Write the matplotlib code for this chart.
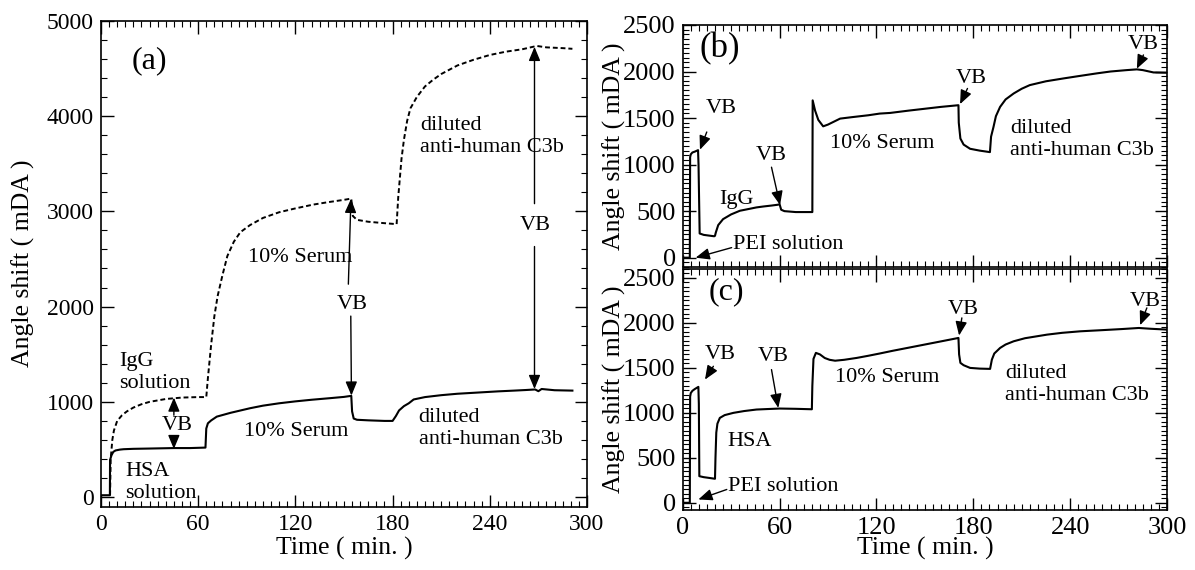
import matplotlib
matplotlib.use("Agg")
import matplotlib.pyplot as plt
from matplotlib.ticker import MultipleLocator

plt.rcParams["font.family"] = ["Liberation Serif", "DejaVu Serif"]
plt.rcParams["mathtext.fontset"] = "stix"

# (a) adsorption on bare sensor: IgG (dashed) and HSA (solid), time in min, shift in mDA
a_igg_t = [5.6, 6, 7, 8, 10, 13, 16, 20, 25, 30, 40, 50, 60, 65,
           66, 68, 70, 72, 75, 78, 82, 86, 92, 100, 110, 120, 131, 140, 150, 154.5,
           155.5, 158, 165, 175, 182.5,
           183.5, 184.5, 185.5, 187, 189, 191, 195, 200, 205, 210, 220, 230, 240,
           250, 260, 269, 275, 285, 291]
a_igg_v = [20, 400, 600, 700, 800, 860, 900, 940, 975, 1000, 1030, 1045, 1050, 1050,
           1250, 1600, 1900, 2110, 2330, 2530, 2680, 2780, 2855, 2930, 2990, 3030, 3070, 3095, 3120, 3133,
           2950, 2910, 2890, 2875, 2865,
           3150, 3350, 3550, 3750, 3950, 4080, 4200, 4310, 4380, 4440, 4530, 4590, 4640,
           4675, 4700, 4735, 4720, 4712, 4705]

a_hsa_t = [0.5, 5.5, 5.6, 6.5, 7.6, 9, 11.7, 14, 20, 30, 45, 55, 64.5,
           65, 66, 68, 71.5, 80, 92, 100, 110, 120, 130, 141.6, 150, 154.5,
           155, 156, 158, 165, 175, 180,
           182, 184, 187, 190, 193, 200, 210, 220, 230, 245, 255, 262, 268,
           270, 272, 280, 291]
a_hsa_v = [20, 20, 390, 440, 475, 490, 499, 503, 507, 510, 515, 515, 520,
           720, 775, 805, 845, 885, 933, 960, 985, 1005, 1022, 1039, 1052, 1063,
           900, 825, 812, 806, 800, 800,
           850, 910, 955, 985, 1025, 1050, 1070, 1085, 1095, 1110, 1118, 1124, 1130,
           1112, 1135, 1122, 1118]

# (b) PEI layer, IgG, serum, anti-C3b
b_t = [0.5, 4.4, 4.5, 4.6, 5, 6, 7.6, 9.5,
       9.8, 10.5, 13, 16, 19.5,
       20, 20.5, 22, 25, 30, 35.4, 40, 45.7, 50, 55, 59,
       60, 61, 63, 70, 80.3,
       80.5, 82, 84, 87, 90, 97.5, 105, 115, 122, 128.5, 140, 150, 160, 170.8,
       171, 172, 174, 178, 184, 190.3,
       191, 192.5, 194, 196.6, 200, 205, 210, 215, 225, 236, 245, 256.5, 265,
       275, 281.3, 285, 291.6, 300]
b_v = [0, 0, 600, 1080, 1110, 1130, 1140, 1155,
       1000, 260, 245, 238, 230,
       235, 270, 350, 414, 465, 504, 520, 540, 550, 560, 569,
       575, 515, 500, 490, 490,
       1690, 1580, 1480, 1411, 1430, 1494, 1510, 1530, 1548, 1555, 1580, 1600, 1620, 1638,
       1450, 1280, 1215, 1170, 1150, 1134,
       1300, 1404, 1520, 1620, 1700, 1764, 1815, 1854, 1895, 1926, 1950, 1980, 2000,
       2015, 2023, 2015, 1990, 1987]

# (c) PEI layer, HSA, serum, anti-C3b
c_t = [0.5, 4.4, 4.5, 4.6, 5, 6, 7.5, 9.7,
       10, 10.3, 13, 17, 20,
       20.3, 20.8, 21.5, 23, 26, 31.4, 38, 45.7, 52, 60, 70, 80,
       80.3, 81, 82.5, 85, 88, 91, 94.4, 100, 107.8, 115, 122, 130, 140, 150, 160, 170.8,
       171.2, 172, 174, 178, 184, 190.4,
       191.5, 193, 196.6, 200, 205, 212, 225.7, 235, 246.3, 260, 272, 282.5, 290, 300]
c_v = [0, 0, 600, 1180, 1220, 1245, 1265, 1289,
       1100, 296, 285, 275, 267,
       500, 780, 880, 944, 975, 1000, 1020, 1037, 1042, 1048, 1045, 1040,
       1300, 1600, 1667, 1650, 1610, 1590, 1580, 1590, 1611, 1635, 1660, 1690, 1725, 1760, 1795, 1833,
       1650, 1556, 1530, 1500, 1492, 1489,
       1592, 1660, 1722, 1760, 1796, 1830, 1870, 1890, 1907, 1920, 1932, 1944, 1935, 1926]

ANN = 16
TICK = 17
LABEL = 18.5
LW = 1.5


def style(ax, ymajor, yminor, labelsize):
    ax.set_xlim(0, 300)
    ax.xaxis.set_major_locator(MultipleLocator(60))
    ax.xaxis.set_minor_locator(MultipleLocator(5))
    ax.yaxis.set_major_locator(MultipleLocator(ymajor))
    ax.yaxis.set_minor_locator(MultipleLocator(yminor))
    ax.tick_params(which="both", direction="in", top=True, right=True,
                   labelsize=labelsize, pad=5)
    ax.tick_params(which="major", length=9, width=1.0)
    ax.tick_params(which="minor", length=4.5, width=0.8)
    for sp in ax.spines.values():
        sp.set_linewidth(1.2)


def arrow(ax, tail, tip):
    ax.annotate("", xy=tip, xytext=tail,
                arrowprops=dict(arrowstyle="-|>,head_length=0.6,head_width=0.25",
                                lw=1.0, color="k", shrinkA=0, shrinkB=0,
                                mutation_scale=14))


fig = plt.figure(figsize=(11.95, 5.70), dpi=100)

# ---- (a)
ax = fig.add_axes([0.0845, 0.1111, 0.4067, 0.8526])
ax.plot(a_igg_t, a_igg_v, color="k", lw=1.4, dashes=(2.5, 1.5))
ax.plot(a_hsa_t, a_hsa_v, color="k", lw=LW)
ax.set_ylim(-100, 5000)
style(ax, 1000, 200, TICK)
ax.set_xlabel("Time ( min. )", fontsize=LABEL)
ax.set_ylabel("Angle shift ( mDA )", fontsize=LABEL)
ax.yaxis.set_label_coords(-0.136, 0.5)
ax.xaxis.set_label_coords(0.5, -0.062)

ax.text(30, 4580, "(a)", fontsize=23, ha="center", va="center")
ax.text(11.5, 1305, "IgG\nsolution", fontsize=ANN, ha="left", va="center")
ax.text(47, 757, "VB", fontsize=ANN, ha="center", va="center")
arrow(ax, (45, 860), (45, 1045))
arrow(ax, (45, 640), (45, 505))
ax.text(15, 150, "HSA\nsolution", fontsize=ANN, ha="left", va="center")
ax.text(88, 686, "10% Serum", fontsize=ANN, ha="left", va="center")
ax.text(91, 2520, "10% Serum", fontsize=ANN, ha="left", va="center")
ax.text(155, 2024, "VB", fontsize=ANN, ha="center", va="center")
arrow(ax, (152.7, 2235), (154.3, 3130))
arrow(ax, (154.2, 1900), (154.6, 1066))
ax.text(197, 3785, "diluted\nanti-human C3b", fontsize=ANN, ha="left", va="center")
ax.text(268, 2851, "VB", fontsize=ANN, ha="center", va="center")
arrow(ax, (267.6, 3080), (267.6, 4725))
arrow(ax, (267.6, 2630), (267.6, 1135))
ax.text(196, 724, "diluted\nanti-human C3b", fontsize=ANN, ha="left", va="center")

# ---- (b)
bx = fig.add_axes([0.5713, 0.5316, 0.4053, 0.4246])
bx.plot(b_t, b_v, color="k", lw=LW)
bx.set_ylim(-100, 2500)
style(bx, 500, 50, 19)
bx.tick_params(labelbottom=False)
bx.set_ylabel("Angle shift ( mDA )", fontsize=LABEL)
bx.yaxis.set_label_coords(-0.117, 0.5)

bx.text(23, 2250, "(b)", fontsize=25, ha="center", va="center")
bx.text(24, 1602, "VB", fontsize=ANN, ha="center", va="center")
arrow(bx, (14.9, 1350), (10.7, 1160))
bx.text(55, 1098, "VB", fontsize=ANN, ha="center", va="center")
arrow(bx, (55, 972), (60.3, 565))
bx.text(33.5, 630, "IgG", fontsize=ANN, ha="center", va="center")
bx.text(31, 144, "PEI solution", fontsize=ANN, ha="left", va="center")
arrow(bx, (30.3, 108), (8, 0))
bx.text(91, 1228, "10% Serum", fontsize=ANN, ha="left", va="center")
bx.text(179, 1926, "VB", fontsize=ANN, ha="center", va="center")
arrow(bx, (176.4, 1818), (171.8, 1650))
bx.text(202.8, 1270, "diluted\nanti-human C3b", fontsize=ANN, ha="left", va="center")
bx.text(285.4, 2286, "VB", fontsize=ANN, ha="center", va="center")
arrow(bx, (285.4, 2178), (281.3, 2030))

# ---- (c)
cx = fig.add_axes([0.5713, 0.1053, 0.4053, 0.4228])
cx.plot(c_t, c_v, color="k", lw=LW)
cx.set_ylim(-80, 2600)
style(cx, 500, 50, 19)
cx.set_xlabel("Time ( min. )", fontsize=LABEL)
cx.set_ylabel("Angle shift ( mDA )", fontsize=LABEL)
cx.yaxis.set_label_coords(-0.117, 0.5)
cx.xaxis.set_label_coords(0.5, -0.112)

cx.text(27.3, 2351, "(c)", fontsize=23, ha="center", va="center")
cx.text(23, 1648, "VB", fontsize=ANN, ha="center", va="center")
arrow(cx, (19, 1518), (13.8, 1370))
cx.text(56, 1629, "VB", fontsize=ANN, ha="center", va="center")
arrow(cx, (55, 1481), (59.2, 1055))
cx.text(41.7, 684, "HSA", fontsize=ANN, ha="center", va="center")
cx.text(28.3, 185, "PEI solution", fontsize=ANN, ha="left", va="center")
arrow(cx, (27.3, 148), (9.7, 37))
cx.text(94.4, 1392, "10% Serum", fontsize=ANN, ha="left", va="center")
cx.text(173.9, 2148, "VB", fontsize=ANN, ha="center", va="center")
arrow(cx, (172.9, 2056), (171.2, 1860))
cx.text(199.7, 1315, "diluted\nanti-human C3b", fontsize=ANN, ha="left", va="center")
cx.text(286.4, 2240, "VB", fontsize=ANN, ha="center", va="center")
arrow(cx, (287.5, 2167), (283.3, 1975))

fig.savefig("out.png", dpi=100)
